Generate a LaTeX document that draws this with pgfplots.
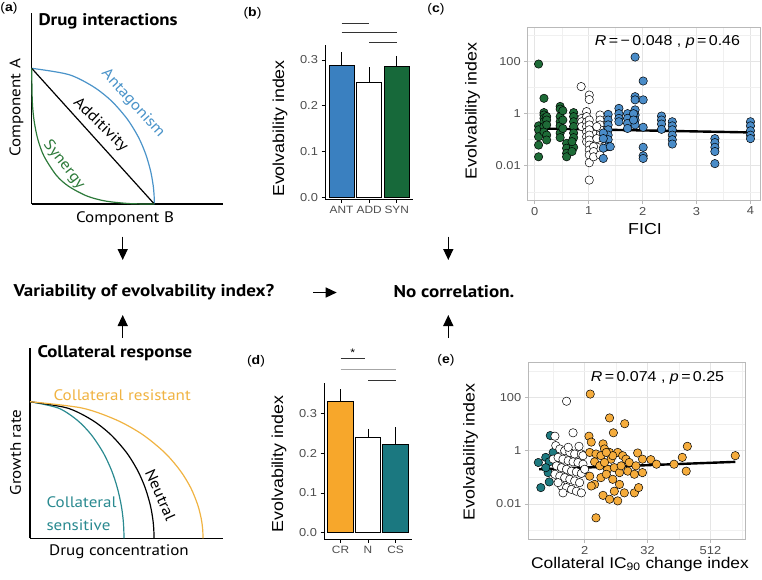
\documentclass[border=0pt]{standalone}
\usepackage{fontspec}
\setmainfont{Liberation Sans}[FakeStretch=1.12]
\newfontfamily\myr{PT Sans}[FakeStretch=1.12]
\usepackage{pgfplots}
\pgfplotsset{compat=1.18}
\usetikzlibrary{arrows.meta}

\definecolor{antblue}{HTML}{3A80C0}
\definecolor{syngreen}{HTML}{17693A}
\definecolor{crorange}{HTML}{F7A72B}
\definecolor{csteal}{HTML}{1B7880}
\definecolor{ptblue}{HTML}{4A8CC8}
\definecolor{ptgreen}{HTML}{1E6B37}
\definecolor{ptorange}{HTML}{F5AC3C}
\definecolor{ptteal}{HTML}{1E7A80}
\definecolor{cvblue}{HTML}{4A93C9}
\definecolor{cvgreen}{HTML}{2D7A3A}
\definecolor{cvorange}{HTML}{F0B342}
\definecolor{cvteal}{HTML}{2A8A90}
\definecolor{tickgray}{HTML}{4D4D4D}

\newcommand{\fs}[1]{\fontsize{#1}{#1}\selectfont}

\pgfplotsset{
  sketch/.style={scale only axis, axis lines=left, axis line style={-, line width=1.3pt},
    xtick=\empty, ytick=\empty, xmin=0, ymin=0, clip=false},
  bars/.style={scale only axis, axis x line*=bottom, axis y line*=left,
    axis line style={-, line width=0.8pt}, xmin=0.4, xmax=3.6, xtick={1,2,3},
    ytick={0,0.1,0.2,0.3}, yticklabels={0.0,0.1,0.2,0.3},
    tick align=outside, major tick length=3.5pt, tick style={black, line width=0.7pt},
    ticklabel style={font=\fs{11.5}, text=tickgray},
    xticklabel style={font=\fs{10.6}, inner xsep=0pt},
    ybar, bar width=25.3pt, clip=false,
    error bars/y dir=plus, error bars/y explicit, error bars/error mark=none,
    error bars/error bar style={line width=1pt, black}},
  scat/.style={scale only axis,
    grid=both, major grid style={gray!20, line width=0.7pt},
    minor grid style={gray!12, line width=0.4pt},
    axis line style={gray!55, line width=0.9pt}, tick align=outside,
    major tick length=3.5pt, minor tick length=0pt, tick style={gray!55, line width=0.7pt},
    xtick pos=bottom, ytick pos=left, ticklabel style={font=\fs{11.5}, text=tickgray}},
  pts/.style={only marks, mark=*, mark size=4.2pt,
    mark options={draw=black, line width=0.5pt, fill=#1}},
}

\begin{document}
\begin{tikzpicture}
\useasboundingbox (0pt,0pt) rectangle (762pt,-579pt);

% ---------- (a) drug interactions sketch
\begin{axis}[sketch, at={(31.7pt,-204pt)}, anchor=south west,
  width=191.3pt, height=190.7pt, xmax=191.3, ymax=190.7]
\addplot[cvblue, line width=1.2pt, smooth] coordinates {
  (0,135.7) (36.8,129.5) (61.3,117.5) (79.7,103.1) (95.6,84.9) (106.7,66.9)
  (114,49.9) (118.9,33) (121.4,19.1) (122.4,8.6) (122.6,0)};
\addplot[black, line width=1.2pt] coordinates {(0,135.7) (122.6,0)};
\addplot[cvgreen, line width=1.2pt, smooth] coordinates {
  (0,135.7) (0.61,102.3) (2.45,82.9) (6.13,64.7) (12.26,47.9) (24.5,28.9)
  (36.8,17.8) (55.2,8.0) (73.6,3.0) (98.1,0.4) (122.6,0)};
\end{axis}
\node[anchor=west, font=\myr\bfseries\fs{16.8}] at (35pt,-21.7pt) {Drug interactions};
\node[rotate=90, font=\myr\fs{15.2}] at (16.5pt,-108pt) {Component A};
\node[font=\myr\fs{15.2}] at (125pt,-218.3pt) {Component B};
\node[rotate=-48, font=\myr\fs{15.2}, text=cvblue] at (133pt,-103.5pt) {Antagonism};
\node[rotate=-44, font=\myr\fs{15.2}] at (100.5pt,-125pt) {Additivity};
\node[rotate=-52, font=\myr\fs{15.2}, text=cvgreen] at (64pt,-164.5pt) {Synergy};

% ---------- (a) collateral response sketch
\begin{axis}[sketch, at={(30pt,-538.3pt)}, anchor=south west,
  width=193pt, height=190pt, xmax=193, ymax=190]
\addplot[cvteal, line width=1.2pt, smooth] coordinates {
  (0,136.6) (28.2,130.3) (47,118.3) (61.1,103.8) (73.3,85.5) (81.8,67.3)
  (87.4,50.2) (91.2,33.2) (93.1,19.3) (93.8,8.6) (94,0)};
\addplot[black, line width=1.2pt, smooth] coordinates {
  (0,136.6) (37.2,130.3) (62,118.3) (80.6,103.8) (96.7,85.5) (107.9,67.3)
  (115.3,50.2) (120.3,33.2) (122.8,19.3) (123.8,8.6) (124,0)};
\addplot[cvorange, line width=1.2pt, smooth] coordinates {
  (0,136.6) (51.9,130.3) (86.5,118.3) (112.5,103.8) (134.9,85.5) (150.5,67.3)
  (160.9,50.2) (167.8,33.2) (171.3,19.3) (172.7,8.6) (173,0)};
\end{axis}
\node[anchor=west, font=\myr\bfseries\fs{16.8}] at (34pt,-353.3pt) {Collateral response};
\node[anchor=west, font=\myr\fs{15.2}, text=cvorange] at (50pt,-395pt) {Collateral resistant};
\node[rotate=90, font=\myr\fs{15.2}] at (15.5pt,-452.5pt) {Growth rate};
\node[font=\myr\fs{15.2}] at (119pt,-551.7pt) {Drug concentration};
\node[rotate=-66, font=\myr\fs{15.2}] at (160.5pt,-495pt) {Neutral};
\node[anchor=west, font=\myr\fs{15.2}, text=cvteal] at (43pt,-501.7pt) {Collateral};
\node[anchor=west, font=\myr\fs{15.2}, text=cvteal] at (43pt,-525pt) {sensitive};

% ---------- middle row
\node[anchor=west, font=\myr\bfseries\fs{17}] at (10pt,-292pt) {Variability of evolvability index?};
\node[anchor=west, font=\myr\bfseries\fs{17}] at (390pt,-292pt) {No correlation.};
\draw[line width=1.4pt, -{Triangle[width=10pt,length=11pt]}] (122.7pt,-236.7pt) -- (122.7pt,-260pt);
\draw[line width=1.4pt, -{Triangle[width=10pt,length=11pt]}] (122.7pt,-338pt) -- (122.7pt,-315pt);
\draw[line width=1.4pt, -{Triangle[width=10pt,length=11pt]}] (448.3pt,-236.7pt) -- (448.3pt,-260pt);
\draw[line width=1.4pt, -{Triangle[width=10pt,length=11pt]}] (448.3pt,-338pt) -- (448.3pt,-315pt);
\draw[line width=1.4pt, -{Triangle[width=10pt,length=11pt]}] (313pt,-292.5pt) -- (336.7pt,-292.5pt);

% ---------- (b) bars by interaction
\begin{axis}[bars, at={(325pt,-199.3pt)}, anchor=south west,
  width=88.3pt, height=154.4pt, ymin=-0.0044, ymax=0.333,
  xticklabels={ANT,ADD,SYN}]
\addplot[fill=antblue, draw=black, line width=0.8pt, bar shift=0pt]
  coordinates {(1,0.2877) +- (0,0.029)};
\addplot[fill=white, draw=black, line width=0.8pt, bar shift=0pt]
  coordinates {(2,0.2505) +- (0,0.0335)};
\addplot[fill=syngreen, draw=black, line width=0.8pt, bar shift=0pt]
  coordinates {(3,0.2855) +- (0,0.0235)};
\draw[black!80, line width=0.6pt] (axis cs:1,0.381) -- (axis cs:2,0.381);
\draw[black!80, line width=0.6pt] (axis cs:1,0.3605) -- (axis cs:3,0.3605);
\draw[black!80, line width=0.6pt] (axis cs:2,0.3387) -- (axis cs:3,0.3387);
\end{axis}
\node[rotate=90, font=\fs{15.9}] at (280pt,-128.5pt) {Evolvability index};

% ---------- (d) bars by collateral response
\begin{axis}[bars, at={(324pt,-539.3pt)}, anchor=south west,
  width=88pt, height=156.7pt, ymin=-0.0166, ymax=0.377,
  xticklabels={CR,N,CS}]
\addplot[fill=crorange, draw=black, line width=0.8pt, bar shift=0pt]
  coordinates {(1,0.331) +- (0,0.029)};
\addplot[fill=white, draw=black, line width=0.8pt, bar shift=0pt]
  coordinates {(2,0.240) +- (0,0.021)};
\addplot[fill=csteal, draw=black, line width=0.8pt, bar shift=0pt]
  coordinates {(3,0.222) +- (0,0.043)};
\draw[black!80, line width=0.6pt] (axis cs:1,0.438) -- (axis cs:1.9,0.438);
\node[font=\fs{11}] at (axis cs:1.45,0.452) {*};
\draw[gray!70, line width=0.8pt] (axis cs:1,0.411) -- (axis cs:3,0.411);
\draw[black!80, line width=0.6pt] (axis cs:2,0.383) -- (axis cs:3,0.383);
\end{axis}
\node[rotate=90, font=\fs{15.9}] at (279pt,-464pt) {Evolvability index};

% ---------- (c) scatter vs FICI
\begin{axis}[scat, at={(527.8pt,-200pt)}, anchor=south west,
  width=232.9pt, height=172.7pt, xmin=-0.13, xmax=4.19,
  ymode=log, ymin=4.8e-4, ymax=2090,
  ytick={0.01,1,100}, yticklabels={0.01,1,100}, minor ytick={0.001,0.1,10,1000},
  xtick={0,1,2,3,4}, xticklabels={0,1,2,3,4}, minor xtick={0.5,1.5,2.5,3.5}]
\addplot[pts=ptgreen] coordinates {
  (0.07,81) (0.07,0.34) (0.07,0.24) (0.07,0.13) (0.07,0.062) (0.07,0.022)
  (0.17,3.9) (0.17,1.1) (0.17,0.89) (0.17,0.66) (0.17,0.49) (0.17,0.32) (0.17,0.20)
  (0.22,0.77) (0.22,0.57) (0.22,0.37) (0.22,0.15) (0.22,0.097)
  (0.47,1.9) (0.47,1.5) (0.47,0.77) (0.47,0.49) (0.47,0.34) (0.47,0.18) (0.47,0.12)
  (0.52,1.3) (0.52,0.57) (0.52,0.27)
  (0.59,0.072) (0.59,0.047) (0.59,0.030) (0.59,0.022)
  (0.72,1.1) (0.72,0.77) (0.72,0.49) (0.72,0.32) (0.72,0.18) (0.72,0.12) (0.72,0.051)
  (0.69,0.084) (0.69,0.035)};
\addplot[pts=white] coordinates {
  (0.86,11) (1.01,5.2) (1.01,3.5)
  (0.87,0.66) (0.87,0.49) (0.87,0.32)
  (0.96,1.2) (0.96,0.77) (0.96,0.49) (0.96,0.32) (0.96,0.20) (0.96,0.13) (0.96,0.084)
  (1.01,0.57) (1.01,0.37) (1.01,0.24) (1.01,0.15) (1.01,0.097) (1.01,0.062)
  (1.01,0.040) (1.01,0.026) (1.01,0.013) (1.01,0.0028)
  (1.09,0.054) (1.09,0.035) (1.09,0.022)
  (1.21,0.89) (1.21,0.57) (1.21,0.37) (1.21,0.24) (1.21,0.15) (1.21,0.097) (1.21,0.026)
  (1.15,0.32) (1.15,0.11)};
\addplot[pts=ptblue] coordinates {
  (1.36,0.94) (1.36,0.57) (1.36,0.37) (1.36,0.24) (1.36,0.15) (1.36,0.10) (1.36,0.054)
  (1.27,0.18) (1.27,0.11) (1.27,0.047) (1.27,0.019) (1.40,0.054)
  (1.56,1.6) (1.56,1.0) (1.56,0.66) (1.56,0.49)
  (1.72,1.0) (1.72,0.66) (1.72,0.42) (1.72,0.27)
  (1.86,150) (1.86,4.5) (1.86,3.4) (1.86,1.4) (1.86,0.89) (1.86,0.57) (1.86,0.37)
  (1.83,1.0) (1.83,0.57)
  (2.01,18) (2.01,3.4) (2.01,0.30) (2.01,0.051) (2.01,0.024) (2.01,0.019)
  (2.35,0.81) (2.35,0.57) (2.35,0.40) (2.35,0.25)
  (2.55,0.49) (2.55,0.34) (2.55,0.24) (2.55,0.15) (2.55,0.10) (2.55,0.068)
  (3.34,0.11) (3.34,0.077) (3.34,0.051) (3.34,0.035) (3.34,0.012)
  (4,0.49) (4,0.34) (4,0.22) (4,0.15) (4,0.11)};
\addplot[black, line width=2.4pt, no marks] coordinates {(0.06,0.27) (4,0.19)};
\end{axis}
\node[font=\fs{14.3}] at (667.5pt,-41.7pt) {\textit{R}\,=\,−\,0.048 , \textit{p}\,=\,0.46};
\node[anchor=base, font=\fs{15.9}] at (645pt,-234pt) {FICI};
\node[rotate=90, font=\fs{15.9}] at (472.5pt,-111pt) {Evolvability index};

% ---------- (e) scatter vs collateral IC90 change
\begin{axis}[scat, at={(528.3pt,-539pt)}, anchor=south west,
  width=216.7pt, height=176.7pt, xmode=log,
  ymode=log, ymin=4.8e-4, ymax=2090,
  ytick={0.01,1,100}, yticklabels={0.01,1,100}, minor ytick={0.001,0.1,10,1000},
  xmin=0.167, xmax=2350, xtick={2,32,512}, xticklabels={2,32,512},
  minor xtick={0.5,8,128,2048}]
\addplot[pts=ptteal] coordinates {
  (0.44,3.7) (0.36,0.56) (0.26,0.36) (0.42,0.38) (0.40,0.15) (0.42,0.067)
  (0.29,0.041) (0.50,0.86) (0.36,0.23)};
\addplot[pts=white] coordinates {
  (0.90,72) (1.2,4.7) (0.54,3.5) (0.56,1.55) (0.67,1.16) (0.83,1.0) (1.04,0.86)
  (1.29,0.75) (1.73,0.75) (0.50,0.48) (0.62,0.56) (0.77,0.48) (0.97,0.42) (1.2,0.38)
  (1.49,0.36) (1.86,0.31) (0.58,0.27) (0.72,0.23) (0.90,0.20) (1.12,0.17) (1.39,0.16)
  (1.73,0.14) (0.54,0.13) (0.67,0.11) (0.83,0.097) (1.04,0.084) (1.29,0.073)
  (1.6,0.063) (0.72,0.047) (0.90,0.041) (1.12,0.035) (1.39,0.030) (1.73,0.026)
  (0.77,0.026) (0.62,0.063) (1.86,0.65) (2.0,0.20) (1.56,1.46) (0.97,1.34)};
\addplot[pts=ptorange] coordinates {
  (2.56,134) (6.0,17) (11.7,10.3) (7.1,4.7) (2.42,3.5) (2.68,2.1) (4.5,1.8)
  (2.5,0.86) (3.3,0.75) (4.8,1.16) (6.0,0.86) (8.6,0.86) (10.7,0.65) (12.4,0.48)
  (20.7,0.82) (25.6,0.48) (37,0.46) (47.5,0.31) (103,0.31) (148,0.56) (185,1.46)
  (176,0.17) (1530,0.65) (3.1,0.38) (3.9,0.27) (5.5,0.20) (7.4,0.23) (9.3,0.15)
  (13.4,0.17) (17.9,0.13) (25.6,0.15) (2.5,0.11) (3.1,0.054) (4.1,0.097) (5.2,0.13)
  (6.9,0.084) (9.3,0.054) (7.4,0.030) (11.5,0.026) (8.6,0.013) (4.5,0.021)
  (6.0,0.015) (3.3,0.003) (17.9,0.026) (21.6,0.041) (2.68,0.047) (14.3,0.36)
  (4.1,0.65) (6.4,0.48) (10,0.27) (19.2,0.27) (4.8,0.36) (6.9,0.65) (5.2,0.86)};
\addplot[black, line width=2.4pt, no marks] coordinates {(0.27,0.20) (1530,0.38)};
\end{axis}
\node[font=\fs{14.3}] at (657.5pt,-378.3pt) {\textit{R}\,=\,0.074 , \textit{p}\,=\,0.25};
\node[anchor=base, font=\fs{15.5}] at (640pt,-568pt) {Collateral IC\textsubscript{90} change index};
\node[rotate=90, font=\fs{15.9}] at (470.5pt,-451.7pt) {Evolvability index};

% ---------- panel letters
\node[font=\fs{12.5}] at (9pt,-8pt) {(\textbf{a})};
\node[font=\fs{12.5}] at (252.5pt,-13.5pt) {(\textbf{b})};
\node[font=\fs{12.5}] at (436pt,-9.5pt) {(\textbf{c})};
\node[font=\fs{12.5}] at (256pt,-361.7pt) {(\textbf{d})};
\node[font=\fs{12.5}] at (446pt,-360pt) {(\textbf{e})};
\end{tikzpicture}
\end{document}
